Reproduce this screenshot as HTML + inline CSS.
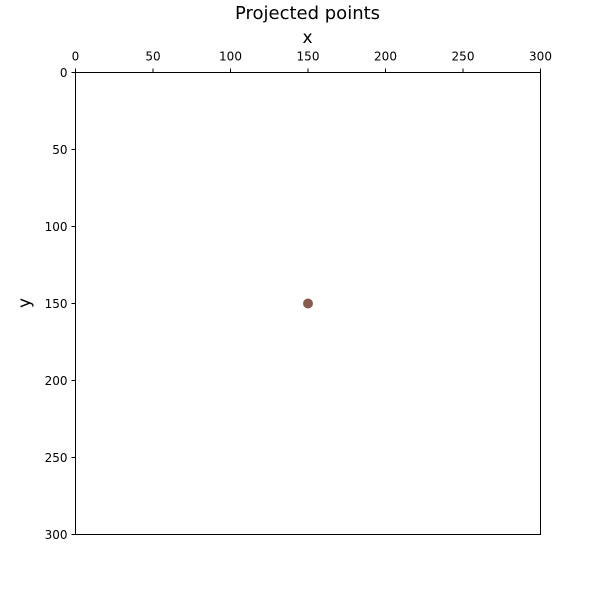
<!DOCTYPE html>
<html><head><meta charset="utf-8"><style>
body{margin:0;background:#fff}
svg text{font-family:"DejaVu Sans","Liberation Sans",sans-serif;fill:#000}
</style></head><body>
<svg id="chart" width="600" height="600">
<text x="307.5" y="19" font-size="18" text-anchor="middle">Projected points</text>
<text x="307.5" y="43" font-size="17" text-anchor="middle">x</text>
<text transform="translate(30,303) rotate(-90)" font-size="17" text-anchor="middle">y</text>
<g id="xt"></g>
<g id="yt"></g>
<g id="pts"></g>
<rect x="75.5" y="72.5" width="465" height="462" fill="none" stroke="#000" stroke-width="1"/>
</svg>
<script>
const xTicks=[0,50,100,150,200,250,300];
const yTicks=[0,50,100,150,200,250,300];
const xs=[150];
const ys=[150];
const L=75.5,R=540.5,T=72.5,B=534.5;
const sx=v=>L+(v-0)/300*(R-L);
const sy=v=>T+(v-0)/300*(B-T);
const NS="http://www.w3.org/2000/svg";
const xt=document.getElementById('xt'),yt=document.getElementById('yt'),pts=document.getElementById('pts');
xTicks.forEach(v=>{
 const l=document.createElementNS(NS,'line');
 l.setAttribute('x1',sx(v));l.setAttribute('x2',sx(v));l.setAttribute('y1',T);l.setAttribute('y2',T-4);l.setAttribute('stroke','#000');
 
 
 xt.appendChild(l);
 const t=document.createElementNS(NS,'text');
 t.setAttribute('x',sx(v));t.setAttribute('y',T-12);t.setAttribute('font-size','12');t.setAttribute('text-anchor','middle');t.textContent=v;
 
 
 xt.appendChild(t);
});
yTicks.forEach(v=>{
 const l=document.createElementNS(NS,'line');
 l.setAttribute('x1',L);l.setAttribute('x2',L-4);l.setAttribute('y1',sy(v));l.setAttribute('y2',sy(v));l.setAttribute('stroke','#000');
 
 
 yt.appendChild(l);
 const t=document.createElementNS(NS,'text');
 t.setAttribute('x',L-8);t.setAttribute('y',sy(v)+4.5);t.setAttribute('font-size','12');t.setAttribute('text-anchor','end');t.textContent=v;
 
 
 yt.appendChild(t);
});
xs.forEach((v,i)=>{
 const c=document.createElementNS(NS,'circle');
 c.setAttribute('cx',sx(v));c.setAttribute('cy',sy(ys[i]));c.setAttribute('r','5');c.setAttribute('fill','#8a5a4e');
 
 
 pts.appendChild(c);
});
</script>
</body></html>
